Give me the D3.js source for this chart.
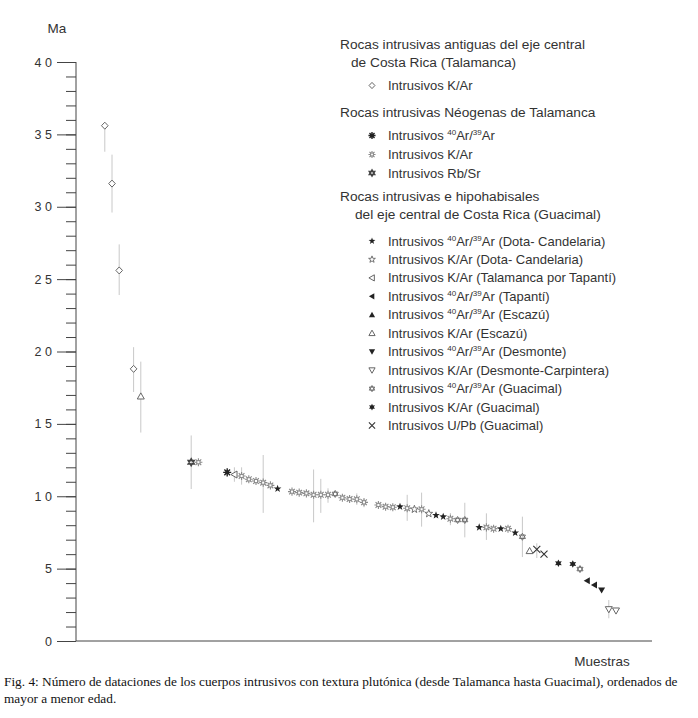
<!DOCTYPE html>
<html><head><meta charset="utf-8">
<script src="https://cdn.jsdelivr.net/npm/d3@7"></script>
<style>
body{margin:0;background:#fff;}
svg{display:block;}
</style></head>
<body><svg id="c" width="698" height="718" font-family="Liberation Sans, Arial, sans-serif"></svg>
<script>
// ---- data ----
const sampleIdx = [4,5,6,8,9,16,17,21,22,23,24,25,26,27,28,30,31,32,33,34,35,36,37,38,39,40,42,43,44,45,46,47,48,49,50,51,52,53,54,56,57,58,59,60,61,62,63,64,65,67,69,70,71,72,73,74,75];
const ages = [35.6,31.6,25.6,18.8,16.9,12.35,12.35,11.65,11.5,11.4,11.17,11.05,10.94,10.75,10.52,10.32,10.25,10.2,10.1,10.1,10.1,10.16,9.9,9.81,9.79,9.58,9.4,9.28,9.24,9.28,9.17,9.1,9.1,8.8,8.68,8.59,8.45,8.36,8.36,7.85,7.85,7.76,7.76,7.76,7.48,7.2,6.22,6.33,6.0,5.37,5.32,4.97,4.17,3.87,3.52,2.19,2.1];
const symbols = ["dia","dia","dia","dia","eKAr","nRb","nKAr","nAr","tKAr","nKAr","nKAr","nKAr","nKAr","nKAr","dAr","nKAr","nKAr","nKAr","nKAr","nKAr","nKAr","gAr","nKAr","nKAr","nKAr","nKAr","nKAr","nKAr","nKAr","dAr","nKAr","dKAr","nKAr","dKAr","dAr","dAr","nKAr","gAr","gAr","dAr","nKAr","nKAr","dAr","nKAr","dAr","gAr","eKAr","gUPb","gUPb","gKAr","gKAr","gAr","tAr","tAr","mAr","mKAr","mKAr"];
const errIdx  = [4,5,6,8,9,16,22,23,26,33,34,35,39,40,46,48,52,54,57,62,64,74];
const errHigh = [35.6,33.6,27.4,20.3,19.3,14.2,12.0,12.0,12.85,11.85,11.2,10.55,10.2,9.86,10.1,10.25,8.84,9.55,8.82,8.59,6.75,2.83];
const errLow  = [33.8,29.6,23.9,17.2,14.4,10.5,11.0,10.8,8.85,8.2,8.85,9.55,9.4,9.24,8.3,7.9,8.0,7.16,6.98,5.8,5.73,1.57];
const yTicks = [0,5,10,15,20,25,30,35,40];
const yLabel = "Ma";
const xLabel = "Muestras";
const legendGroups = [
  {title:["Rocas intrusivas antiguas del eje central","de Costa Rica (Talamanca)"], items:[["dia","Intrusivos K/Ar"]]},
  {title:["Rocas intrusivas Néogenas de Talamanca"], items:[["nAr","Intrusivos |40|Ar/|39|Ar"],["nKAr","Intrusivos K/Ar"],["nRb","Intrusivos Rb/Sr"]]},
  {title:["Rocas intrusivas e hipohabisales","del eje central de Costa Rica (Guacimal)"], items:[
    ["dAr","Intrusivos |40|Ar/|39|Ar (Dota- Candelaria)"],
    ["dKAr","Intrusivos K/Ar (Dota- Candelaria)"],
    ["tKAr","Intrusivos K/Ar (Talamanca por Tapantí)"],
    ["tAr","Intrusivos |40|Ar/|39|Ar (Tapantí)"],
    ["eAr","Intrusivos |40|Ar/|39|Ar (Escazú)"],
    ["eKAr","Intrusivos K/Ar (Escazú)"],
    ["mAr","Intrusivos |40|Ar/|39|Ar (Desmonte)"],
    ["mKAr","Intrusivos K/Ar (Desmonte-Carpintera)"],
    ["gAr","Intrusivos |40|Ar/|39|Ar (Guacimal)"],
    ["gKAr","Intrusivos K/Ar (Guacimal)"],
    ["gUPb","Intrusivos U/Pb (Guacimal)"]]}
];
const caption = ["Fig. 4: Número de dataciones de los cuerpos intrusivos con textura plutónica (desde Talamanca hasta Guacimal), ordenados de","mayor a menor edad."];

// ---- chart ----
const svg = d3.select("#c");
const x = d3.scaleLinear().domain([0,80]).range([76,652]);
const y = d3.scaleLinear().domain([0,40]).range([641,62]);

function drawSym(g, type, r){
  const dark="#222", mid="#666", light="#8a8a8a";
  const poly = pts => "M"+pts.map(p=>p[0].toFixed(2)+","+p[1].toFixed(2)).join("L")+"Z";
  const star = (n, ro, ri, rot) => { const p=[]; for(let i=0;i<2*n;i++){const a=rot+i*Math.PI/n; const rr=i%2?ri:ro; p.push([rr*Math.sin(a),-rr*Math.cos(a)]);} return poly(p); };
  const spokes = (n, len) => { let s=""; for(let i=0;i<n;i++){const a=i*2*Math.PI/n; s+=`M0,0L${(len*Math.sin(a)).toFixed(2)},${(-len*Math.cos(a)).toFixed(2)}`;} return s; };
  const hexa = poly([[0,-r],[r*0.87,r*0.5],[-r*0.87,r*0.5]])+poly([[0,r],[r*0.87,-r*0.5],[-r*0.87,-r*0.5]]);
  switch(type){
    case "dia": g.append("path").attr("d",poly([[0,-r],[r*0.95,0],[0,r],[-r*0.95,0]])).attr("fill","#fff").attr("stroke",mid).attr("stroke-width",1); break;
    case "eKAr": g.append("path").attr("d",poly([[0,-r],[r,r*0.75],[-r,r*0.75]])).attr("fill","#fff").attr("stroke",mid).attr("stroke-width",1); break;
    case "eAr": g.append("path").attr("d",poly([[0,-r],[r,r*0.75],[-r,r*0.75]])).attr("fill",dark); break;
    case "mKAr": g.append("path").attr("d",poly([[0,r],[r,-r*0.75],[-r,-r*0.75]])).attr("fill","#fff").attr("stroke",mid).attr("stroke-width",1); break;
    case "mAr": g.append("path").attr("d",poly([[0,r],[r,-r*0.75],[-r,-r*0.75]])).attr("fill",dark); break;
    case "tKAr": g.append("path").attr("d",poly([[-r,0],[r*0.75,-r],[r*0.75,r]])).attr("fill","#fff").attr("stroke",mid).attr("stroke-width",1); break;
    case "tAr": g.append("path").attr("d",poly([[-r,0],[r*0.75,-r],[r*0.75,r]])).attr("fill",dark); break;
    case "dAr": g.append("path").attr("d",star(5,r*1.15,r*0.47,0)).attr("fill",dark); break;
    case "dKAr": g.append("path").attr("d",star(5,r*1.15,r*0.47,0)).attr("fill","#fff").attr("stroke",mid).attr("stroke-width",0.9); break;
    case "nKAr":
      g.append("path").attr("d",spokes(8,r*1.15)).attr("fill","none").attr("stroke",light).attr("stroke-width",1.1);
      g.append("rect").attr("x",-r*0.45).attr("y",-r*0.45).attr("width",r*0.9).attr("height",r*0.9).attr("fill","#fff").attr("stroke",light).attr("stroke-width",1); break;
    case "nAr":
      g.append("path").attr("d",spokes(8,r*1.15)).attr("fill","none").attr("stroke",dark).attr("stroke-width",1.4);
      g.append("rect").attr("x",-r*0.45).attr("y",-r*0.45).attr("width",r*0.9).attr("height",r*0.9).attr("fill",dark); break;
    case "nRb": g.append("path").attr("d",hexa).attr("fill","none").attr("stroke","#444").attr("stroke-width",1.5); break;
    case "gAr": g.append("path").attr("d",hexa).attr("fill","#fff").attr("stroke",mid).attr("stroke-width",0.9); break;
    case "gKAr": g.append("path").attr("d",star(6,r*1.1,r*0.6,0)).attr("fill",dark); break;
    case "gUPb": g.append("path").attr("d",`M${-r},${-r}L${r},${r}M${r},${-r}L${-r},${r}`).attr("stroke","#333").attr("stroke-width",1.1); break;
  }
}

// error bars
svg.append("g").selectAll("line").data(errIdx).join("line")
  .attr("x1",d=>x(d)).attr("x2",d=>x(d))
  .attr("y1",(d,i)=>y(errHigh[i])).attr("y2",(d,i)=>y(errLow[i]))
  .attr("stroke","#c8c8c8").attr("stroke-width",1);

// axes
const axisColor="#444";
const minor = svg.append("g").attr("transform","translate(76,0)")
  .call(d3.axisLeft(y).tickValues(d3.range(0,41,1)).tickSize(10).tickFormat(""));
minor.select(".domain").remove();
minor.selectAll("line").attr("stroke",axisColor);
const major = svg.append("g").attr("transform","translate(76,0)")
  .call(d3.axisLeft(y).tickValues(yTicks).tickSize(19).tickPadding(5)
    .tickFormat(d=>String(d).split("").join(" ")));
major.select(".domain").attr("stroke",axisColor).attr("d","M0,"+y(40)+"V"+y(0));
major.selectAll("line").attr("stroke",axisColor);
major.selectAll("text").attr("font-size",12.5).attr("fill","#333").attr("font-family","Liberation Sans, Arial, sans-serif");
svg.append("line").attr("x1",x(0)).attr("x2",x(80)).attr("y1",y(0)).attr("y2",y(0)).attr("stroke",axisColor);

svg.append("text").attr("x",57).attr("y",33).attr("text-anchor","middle").attr("font-size",13.5).attr("fill","#333").text(yLabel);
svg.append("text").attr("x",602).attr("y",666).attr("text-anchor","middle").attr("font-size",13.5).attr("fill","#333").text(xLabel);

// points
const pts = svg.append("g");
sampleIdx.forEach((s,i)=>{
  const g = pts.append("g").attr("transform",`translate(${x(s)},${y(ages[i])})`);
  drawSym(g, symbols[i], 3.5);
});

// legend
function richText(t, str, size){
  const parts = str.split("|");
  const shift = size*0.38;
  let raised = false;
  parts.forEach((p,k)=>{
    if(!p) return;
    if(k%2===1){
      t.append("tspan").attr("font-size",size*0.62).attr("dy",-shift).text(p);
      raised = true;
    } else {
      const ts = t.append("tspan").attr("font-size",size).text(p);
      if(raised){ ts.attr("dy",shift); raised=false; }
    }
  });
}
const lg = svg.append("g").attr("fill","#333");
const headBase = [[49,67],[117],[201,218.5]];
const headIndent = [351,0,355];
const itemBase = [[90],[140,159,177.5],d3.range(11).map(k=>245.5+k*18.45)];
legendGroups.forEach((grp,gi)=>{
  grp.title.forEach((line,li)=>{
    lg.append("text").attr("x",li===0?340:headIndent[gi]).attr("y",headBase[gi][li]).attr("font-size",13.7).text(line);
  });
  grp.items.forEach((it,ii)=>{
    const yb = itemBase[gi][ii];
    const g = lg.append("g").attr("transform",`translate(372,${yb-4.5})`);
    drawSym(g, it[0], 3.1);
    const t = lg.append("text").attr("x",388).attr("y",yb);
    richText(t, it[1], 13);
  });
});

// caption
caption.forEach((c,i)=>{
  svg.append("text").attr("x",4).attr("y",686+i*17)
    .style("font-family","'Liberation Serif', 'Times New Roman', serif")
    .attr("font-size",13.3).attr("fill","#111").text(c);
});
</script></body></html>
